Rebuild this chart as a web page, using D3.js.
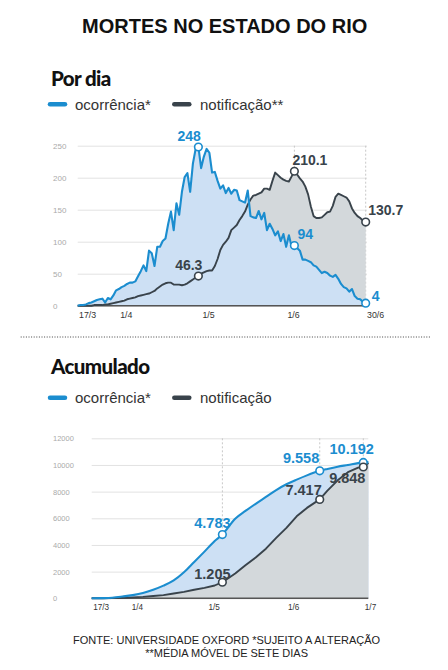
<!DOCTYPE html>
<html>
<head>
<meta charset="utf-8">
<script src="https://cdn.jsdelivr.net/npm/d3@7"></script>
<style>
  body { margin: 0; background: #fff; }
  svg text { font-family: "Liberation Sans", Arial, sans-serif; }
</style>
</head>
<body>
<div id="chart"></div>
<script>
// Data //
var parseDate = d3.timeParse("%d/%m/%Y");

// daily deaths, one value per day starting 17/3
var dailyStart = "17/03/2020";
var dailyOcc = [
  0, 1, 1, 2, 4, 5, 7, 9, 10, 11,
  5, 12, 10, 16, 24, 26, 29, 31, 34, 36,
  36, 38, 46, 54, 63, 54, 86, 82, 62, 92,
  92, 101, 105, 128, 147, 118, 160, 142, 178, 201,
  207, 178, 222, 245, 248, 215, 233, 245, 239, 208,
  209, 195, 183, 188, 176, 184, 175, 181, 180, 165,
  163, 161, 180, 140, 138, 137, 148, 135, 145, 118,
  128, 120, 110, 116, 101, 112, 92, 110, 92, 94,
  90, 86, 72, 72, 70, 68, 63, 61, 56, 51,
  53, 51, 47, 45, 48, 42, 34, 29, 27, 22,
  26, 15, 11, 10, 6, 4
];
var dailyNot = [
  0, 0, 0, 0, 0, 0, 1, 1, 1, 1,
  2, 2, 3, 4, 5, 6, 7, 8, 10, 11,
  12, 13, 15, 16, 17, 18, 19, 21, 23, 27,
  30, 33, 35, 36, 36, 33, 33, 33, 32, 33,
  35, 38, 41, 44, 46.3, 50, 52, 54, 55, 55,
  62, 73, 87, 95, 100, 106, 118, 122, 126, 134,
  140, 147, 158, 166, 172, 173, 175, 177, 183, 183,
  181, 195, 208, 204, 200, 197, 195, 194, 202, 210.1,
  205, 199, 194, 186, 174, 155, 140, 137, 137, 138,
  142, 146, 147, 156, 170, 175, 173, 171, 169, 163,
  152, 145, 140, 137, 133, 130.7
];
var dailyEnd = "30/06/2020";
var dailyTicks = ["17/03/2020", "01/04/2020", "01/05/2020", "01/06/2020", "30/06/2020"];
var dailyYTicks = [0, 50, 100, 150, 200, 250];
var dailyNotes = [
  ["occ", "30/04/2020", "248"],
  ["not", "30/04/2020", "46.3"],
  ["not", "04/06/2020", "210.1"],
  ["occ", "04/06/2020", "94"],
  ["not", "30/06/2020", "130.7"],
  ["occ", "30/06/2020", "4"]
];

// cumulative deaths
var accDates = [
  "17/03/2020", "21/03/2020", "25/03/2020", "29/03/2020", "02/04/2020", "06/04/2020",
  "10/04/2020", "14/04/2020", "18/04/2020", "22/04/2020", "26/04/2020", "30/04/2020",
  "04/05/2020", "07/05/2020", "12/05/2020", "16/05/2020", "20/05/2020", "24/05/2020",
  "28/05/2020", "01/06/2020", "05/06/2020", "09/06/2020", "14/06/2020", "17/06/2020",
  "21/06/2020", "25/06/2020", "29/06/2020", "01/07/2020", "03/07/2020"
];
var accOcc = [
  0, 10, 40, 130, 240, 400,
  640, 950, 1340, 1950, 2720, 3500,
  4300, 4783, 5960, 6550, 7090, 7600,
  8120, 8550, 8900, 9220, 9558, 9700,
  9870, 10000, 10140, 10192, 10220
];
var accNot = [
  0, 5, 15, 35, 70, 110,
  170, 240, 360, 480, 640, 780,
  960, 1205, 1860, 2475, 3060, 3720,
  4530, 5280, 6150, 6780, 7417, 8075,
  8850, 9460, 9800, 9848, 10150
];
var accEnd = "01/07/2020";
var accTicks = ["17/03/2020", "01/04/2020", "01/05/2020", "01/06/2020", "01/07/2020"];
var accYTicks = [0, 2000, 4000, 6000, 8000, 10000, 12000];
var accNotes = [
  ["occ", "07/05/2020", "4.783"],
  ["not", "07/05/2020", "1.205"],
  ["occ", "14/06/2020", "9.558"],
  ["not", "14/06/2020", "7.417"],
  ["occ", "01/07/2020", "10.192"],
  ["not", "01/07/2020", "9.848"]
];

// label placement for the notes: [anchor, dx, dy]
var dailyNotePos = [["end", 2.5, -6], ["end", 4, -6], ["start", -2, -6],
  ["start", 3, -7], ["start", 2.5, -7], ["start", 6, -2.5]];
var accNotePos = [["middle", -10, -7], ["middle", -10, -3], ["end", -0.5, -7.5],
  ["end", 2, -4.5], ["middle", -11.6, -8], ["middle", -16, 16]];

// Colours //
var blue = "#1b8dcf";
var dark = "#39434b";
var blueFill = "#cde0f4";
var grayFill = "#d3d8db";

var svg = d3.select("#chart")
  .append("svg")
  .attr("width", 448)
  .attr("height", 670);

// Titles //
svg.append("text")
  .attr("x", 224.7).attr("y", 33.3)
  .attr("text-anchor", "middle")
  .attr("font-size", 20).attr("font-weight", "bold")
  .attr("fill", "#111")
  .text("MORTES NO ESTADO DO RIO");

function sectionTitle(y, txt) {
  svg.append("text")
    .attr("x", 51).attr("y", y)
    .style("font-family", "Lato, Roboto, 'Liberation Sans', sans-serif")
    .attr("font-size", 20.5).attr("font-weight", 900)
    .attr("letter-spacing", -0.6)
    .attr("fill", "#111")
    .text(txt);
}

function legend(y, labels) {
  var items = [[50, 75, blue], [174.3, 200, dark]];
  items.forEach(function(it, i) {
    svg.append("line")
      .attr("x1", it[0]).attr("x2", it[0] + 15)
      .attr("y1", y).attr("y2", y)
      .attr("stroke", it[2]).attr("stroke-width", 4.5)
      .attr("stroke-linecap", "round");
    svg.append("text")
      .attr("x", it[1]).attr("y", y + 5.3)
      .attr("font-size", 15).attr("fill", "#333")
      .text(labels[i]);
  });
}

// Chart drawing //
function drawChart(c) {
  var g = svg.append("g");
  var yTop = c.y.range()[1];
  var yBase = c.y.range()[0];

  // grid
  g.append("g")
    .attr("transform", `translate(${c.x.range()[0]},0)`)
    .call(d3.axisRight(c.y).tickValues(c.yTicks).tickSize(c.gridEnd - c.x.range()[0]).tickFormat(""))
    .call(a => a.select(".domain").remove())
    .call(a => a.selectAll("line").attr("stroke", "#e2e2e2"));

  // y labels
  g.append("g")
    .attr("transform", "translate(53,0)")
    .call(d3.axisRight(c.y).tickValues(c.yTicks).tickSize(0).tickPadding(0).tickFormat(d3.format("d")))
    .call(a => a.select(".domain").remove())
    .call(a => a.selectAll("text")
      .attr("font-size", c.yFont).attr("fill", "#aaa")
      .style("font-family", "'Liberation Sans', Arial, sans-serif"));

  // dashed markers
  var noteDates = Array.from(new Set(c.notes.map(n => n[1])));
  g.selectAll(".marker")
    .data(noteDates)
    .enter()
    .append("line")
    .attr("x1", d => c.x(parseDate(d))).attr("x2", d => c.x(parseDate(d)))
    .attr("y1", yTop).attr("y2", yBase)
    .attr("stroke", "#c8c8c8").attr("stroke-dasharray", "2,2");

  var rows = c.dates.map(function(d, i) {
    return { date: d, occ: c.occ[i], not: c.not[i] };
  });

  var areaOcc = d3.area().x(d => c.x(d.date)).y0(yBase).y1(d => c.y(d.occ)).curve(c.occCurve);
  var areaNot = d3.area().x(d => c.x(d.date)).y0(yBase).y1(d => c.y(d.not)).curve(c.notCurve);
  var lineOcc = d3.line().x(d => c.x(d.date)).y(d => c.y(d.occ)).curve(c.occCurve);
  var lineNot = d3.line().x(d => c.x(d.date)).y(d => c.y(d.not)).curve(c.notCurve);

  if (c.blueOnTop) {
    g.append("path").datum(rows).attr("d", areaNot).attr("fill", grayFill);
    g.append("path").datum(rows).attr("d", areaOcc).attr("fill", blueFill);
  } else {
    g.append("path").datum(rows).attr("d", areaOcc).attr("fill", blueFill);
    g.append("path").datum(rows).attr("d", areaNot).attr("fill", grayFill);
  }

  // baseline
  g.append("line")
    .attr("x1", c.x.range()[0]).attr("x2", c.gridEnd)
    .attr("y1", yBase).attr("y2", yBase)
    .attr("stroke", "#555").attr("stroke-width", 1.5);

  g.append("path").datum(rows).attr("d", lineNot)
    .attr("fill", "none").attr("stroke", dark).attr("stroke-width", 1.9)
    .attr("stroke-linejoin", "round");
  g.append("path").datum(rows).attr("d", lineOcc)
    .attr("fill", "none").attr("stroke", blue).attr("stroke-width", 2.1)
    .attr("stroke-linejoin", "round");

  // x axis labels
  g.append("g")
    .attr("transform", `translate(0,${yBase})`)
    .call(d3.axisBottom(c.x).tickValues(c.ticks.map(parseDate))
      .tickFormat(d3.timeFormat("%-d/%-m")).tickSize(0))
    .call(a => a.select(".domain").remove())
    .call(a => a.selectAll("text")
      .attr("y", c.xLabelY).attr("dy", null).attr("dx", c.xLabelDx)
      .attr("text-anchor", "start")
      .attr("font-size", c.xFont).attr("fill", "#333")
      .style("font-family", "'Liberation Sans', Arial, sans-serif"));

  // notes
  c.notes.forEach(function(n, i) {
    var idx = c.dates.findIndex(d => +d === +parseDate(n[1]));
    var v = n[0] === "occ" ? c.occ[idx] : c.not[idx];
    var col = n[0] === "occ" ? blue : dark;
    var px = c.x(c.dates[idx]);
    var py = c.y(v);
    var pos = c.notePos[i];
    g.append("circle")
      .attr("cx", px).attr("cy", py).attr("r", 3.8)
      .attr("fill", "#fff").attr("stroke", col).attr("stroke-width", 1.6);
    g.append("text")
      .attr("x", px + pos[1]).attr("y", py + pos[2])
      .attr("text-anchor", pos[0])
      .attr("font-size", c.noteFont).attr("font-weight", "bold")
      .attr("fill", col)
      .text(n[2]);
  });
}

// Por dia //
sectionTitle(86, "Por dia");
legend(104.3, ["ocorrência*", "notificação**"]);

var dailyDates = dailyOcc.map((d, i) => d3.timeDay.offset(parseDate(dailyStart), i));

drawChart({
  dates: dailyDates, occ: dailyOcc, not: dailyNot,
  x: d3.scaleTime().domain([parseDate(dailyStart), parseDate(dailyEnd)]).range([77.7, 365.7]),
  y: d3.scaleLinear().domain([0, 250]).range([305.7, 145.7]),
  gridEnd: 367, yTicks: dailyYTicks, ticks: dailyTicks,
  notes: dailyNotes, notePos: dailyNotePos,
  occCurve: d3.curveLinear, notCurve: d3.curveLinear,
  blueOnTop: true, yFont: 8, xFont: 8.8, xLabelY: 12.3, xLabelDx: 0.8, noteFont: 14
});

// separator
svg.append("line")
  .attr("x1", 20.7).attr("x2", 430.7)
  .attr("y1", 337).attr("y2", 337)
  .attr("stroke", "#444").attr("stroke-width", 1)
  .attr("stroke-dasharray", "1,1.6");

// Acumulado //
sectionTitle(374, "Acumulado");
legend(397.7, ["ocorrência*", "notificação"]);

drawChart({
  dates: accDates.map(parseDate), occ: accOcc, not: accNot,
  x: d3.scaleTime().domain([parseDate(accDates[0]), parseDate(accEnd)]).range([91.7, 363.3]),
  y: d3.scaleLinear().domain([0, 12000]).range([598.3, 438.3]),
  gridEnd: 368.3, yTicks: accYTicks, ticks: accTicks,
  notes: accNotes, notePos: accNotePos,
  occCurve: d3.curveMonotoneX, notCurve: d3.curveLinear,
  blueOnTop: false, yFont: 7.5, xFont: 8.2, xLabelY: 12.2, xLabelDx: 1, noteFont: 14.5
});

// Footer //
svg.append("text")
  .attr("x", 226.6).attr("y", 644)
  .attr("text-anchor", "middle")
  .attr("font-size", 11).attr("fill", "#222")
  .text("FONTE: UNIVERSIDADE OXFORD *SUJEITO A ALTERAÇÃO");
svg.append("text")
  .attr("x", 226.6).attr("y", 656.7)
  .attr("text-anchor", "middle")
  .attr("font-size", 11).attr("fill", "#222")
  .text("**MÉDIA MÓVEL DE SETE DIAS");
</script>
</body>
</html>
